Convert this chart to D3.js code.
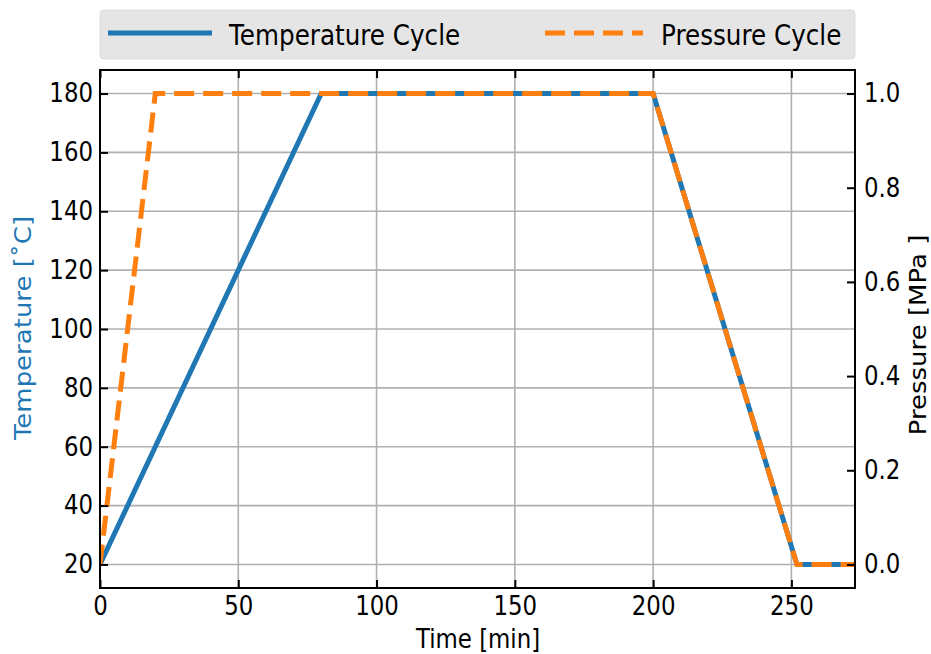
<!DOCTYPE html>
<html lang="en">
<head>
  <meta charset="UTF-8">
  <title>Cure Cycle</title>
  <script src="https://d3js.org/d3.v7.min.js"></script>
  <style>
    body { margin: 0; background: white; }
    svg { display: block; font-family: "DejaVu Sans", sans-serif; }
  </style>
</head>
<body>
<svg id="chart" width="931" height="654"></svg>
<script>
  // time [min] and values for each cycle
  const tempTime = [0, 80, 200, 252, 275];
  const tempValues = [20, 180, 180, 20, 20];
  const presTime = [0, 20, 200, 252, 275];
  const presValues = [0, 1, 1, 0, 0];
  const xTicks = [0, 50, 100, 150, 200, 250];
  const tempTicks = [20, 40, 60, 80, 100, 120, 140, 160, 180];
  const presTicks = [0, 0.2, 0.4, 0.6, 0.8, 1.0];

  const svg = d3.select("#chart");
  const mLeft = 100, mRight = 855, mTop = 70, mBottom = 588;
  const sx = 0.88; // the text in the picture is a bit narrow

  const x = d3.scaleLinear().domain([0, 273]).range([mLeft, mRight]);
  const yT = d3.scaleLinear().domain([12, 188]).range([mBottom, mTop]);
  const yP = d3.scaleLinear().domain([-0.05, 1.05]).range([mBottom, mTop]);

  svg.append("clipPath").attr("id", "clip")
    .append("rect").attr("x", mLeft).attr("y", mTop)
    .attr("width", mRight - mLeft).attr("height", mBottom - mTop);

  // grid
  const grid = svg.append("g").attr("stroke", "#b0b0b0").attr("stroke-width", 1.6);
  xTicks.forEach(t => grid.append("line")
    .attr("x1", x(t)).attr("x2", x(t)).attr("y1", mTop).attr("y2", mBottom));
  tempTicks.forEach(t => grid.append("line")
    .attr("x1", mLeft).attr("x2", mRight).attr("y1", yT(t)).attr("y2", yT(t)));

  // lines
  const tempLine = d3.line().x((d, i) => x(tempTime[i])).y(d => yT(d));
  const presLine = d3.line().x((d, i) => x(presTime[i])).y(d => yP(d));
  const plot = svg.append("g").attr("clip-path", "url(#clip)");
  plot.append("path").datum(tempValues).attr("d", tempLine)
    .attr("fill", "none").attr("stroke", "#1f77b4").attr("stroke-width", 5);
  plot.append("path").datum(presValues).attr("d", presLine)
    .attr("fill", "none").attr("stroke", "#ff7f0e").attr("stroke-width", 5)
    .attr("stroke-dasharray", "20,9");

  // axes with inward ticks
  const tickStyle = g => {
    g.select(".domain").remove();
    g.selectAll(".tick line").attr("stroke", "#000").attr("stroke-width", 2);
    g.selectAll(".tick text").attr("font-size", 26).attr("fill", "#000")
      .attr("font-family", "DejaVu Sans, sans-serif")
      .each(function() {
        const t = d3.select(this);
        const xv = +t.attr("x") || 0;
        t.attr("x", xv / sx).attr("transform", `scale(${sx},1)`);
      });
  };
  svg.append("g").attr("transform", `translate(0,${mBottom})`)
    .call(d3.axisBottom(x).tickValues(xTicks).tickFormat(d3.format("d")).tickSizeInner(-8).tickPadding(9))
    .call(tickStyle);
  svg.append("g").attr("transform", `translate(0,${mTop})`)
    .call(d3.axisTop(x).tickValues(xTicks).tickFormat("").tickSizeInner(-8))
    .call(tickStyle);
  svg.append("g").attr("transform", `translate(${mLeft},0)`)
    .call(d3.axisLeft(yT).tickValues(tempTicks).tickSizeInner(-8).tickPadding(7))
    .call(tickStyle);
  svg.append("g").attr("transform", `translate(${mRight},0)`)
    .call(d3.axisRight(yP).tickValues(presTicks).tickFormat(d3.format(".1f")).tickSizeInner(-8).tickPadding(9))
    .call(tickStyle);

  svg.append("rect").attr("x", mLeft).attr("y", mTop)
    .attr("width", mRight - mLeft).attr("height", mBottom - mTop)
    .attr("fill", "none").attr("stroke", "#000").attr("stroke-width", 2);

  // axis labels
  svg.append("text").attr("transform", `translate(478,648) scale(${sx},1)`)
    .attr("text-anchor", "middle").attr("font-size", 26).text("Time [min]");
  svg.append("text").attr("transform", `translate(31,328) scale(${sx},1) rotate(-90)`)
    .attr("text-anchor", "middle").attr("font-size", 26).attr("fill", "#1f77b4")
    .text("Temperature [˚C]");
  svg.append("text").attr("transform", `translate(926,335) scale(${sx},1) rotate(-90)`)
    .attr("text-anchor", "middle").attr("font-size", 26)
    .text("Pressure [MPa ]");

  // legend
  const legend = svg.append("g");
  legend.append("rect").attr("x", mLeft).attr("y", 10).attr("width", mRight - mLeft).attr("height", 49)
    .attr("rx", 4).attr("fill", "#e5e5e5").attr("stroke", "#dcdcdc");
  legend.append("line").attr("x1", 108).attr("x2", 212).attr("y1", 33).attr("y2", 33)
    .attr("stroke", "#1f77b4").attr("stroke-width", 5);
  legend.append("text").attr("transform", `translate(229,45) scale(${sx},1)`)
    .attr("font-size", 28).text("Temperature Cycle");
  legend.append("line").attr("x1", 545).attr("x2", 643).attr("y1", 33).attr("y2", 33)
    .attr("stroke", "#ff7f0e").attr("stroke-width", 5).attr("stroke-dasharray", "20,9");
  legend.append("text").attr("transform", `translate(661,45) scale(${sx},1)`)
    .attr("font-size", 28).text("Pressure Cycle");
</script>
</body>
</html>
